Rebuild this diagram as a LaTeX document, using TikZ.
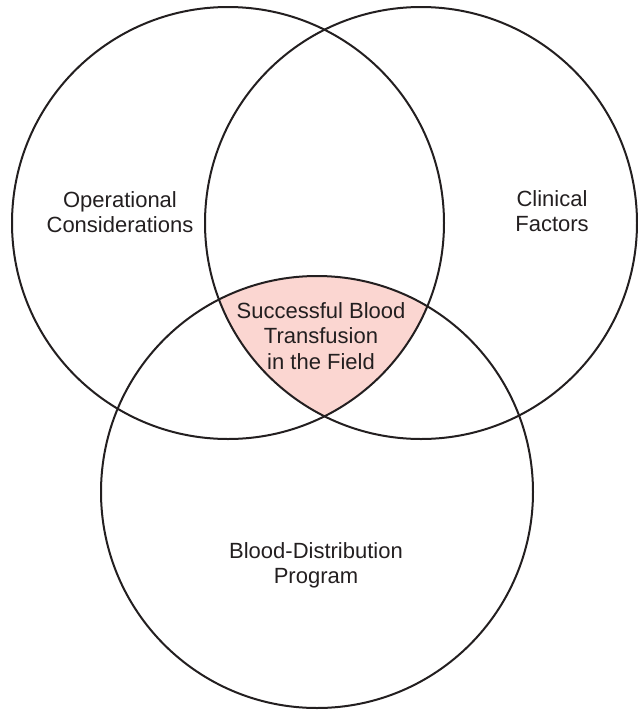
\documentclass[tikz,border=0pt]{standalone}
\usepackage{fontspec}
\setmainfont{Liberation Sans}
\definecolor{fieldpink}{RGB}{251,214,209}
\definecolor{inkgray}{RGB}{35,31,32}
\begin{document}
\begin{tikzpicture}[x=0.75pt,y=-0.75pt,
	ring/.style={line width=1.5pt,color=inkgray},
	lbl/.style={align=center,text=inkgray,font=\fontsize{16.5}{19}\selectfont}]
		\useasboundingbox (0,0) rectangle (638,711);
		% circle centres
		\coordinate (opc) at (228,223);
		\coordinate (clc) at (421,223);
		\coordinate (bdc) at (317,492);
		% shared region
		\begin{scope}
			\clip (opc) circle (216);
			\clip (clc) circle (216);
			\fill[fieldpink] (bdc) circle (216);
		\end{scope}
		\draw[ring] (opc) circle (216);
		\draw[ring] (clc) circle (216);
		\draw[ring] (bdc) circle (216);
		\node[lbl] (oper) at (120,212) {Operational\\Considerations};
		\node[lbl] (clin) at (552,211) {Clinical\\Factors};
		\node[lbl] (succ) at (321,336) {Successful Blood\\Transfusion\\in the Field};
		\node[lbl] (dist) at (316,565) {Blood-Distribution\\Program};
\end{tikzpicture}
\end{document}
